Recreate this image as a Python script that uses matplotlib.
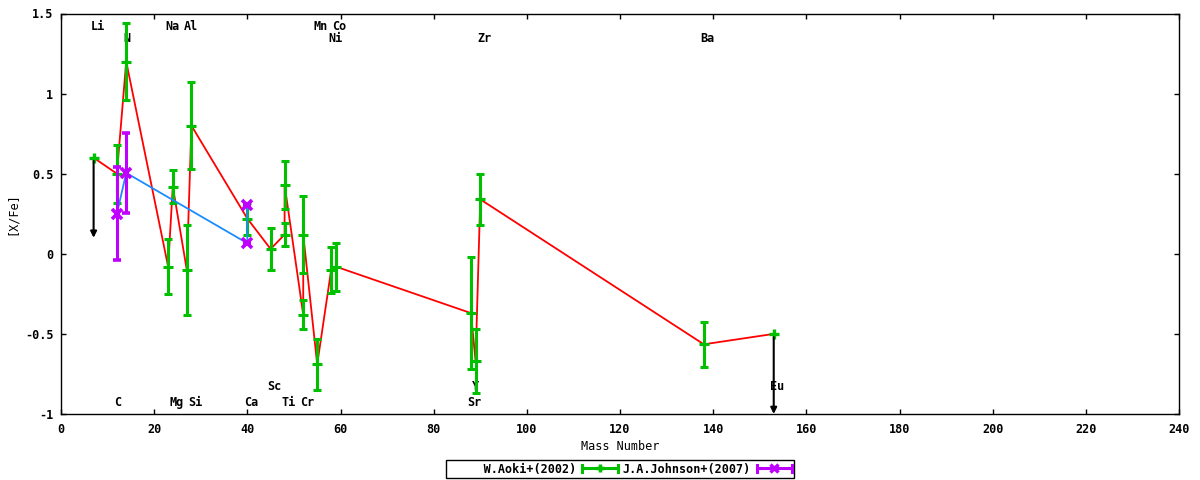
import numpy as np
import matplotlib
matplotlib.use("Agg")
import matplotlib.pyplot as plt
from matplotlib.lines import Line2D
from matplotlib.legend_handler import HandlerBase

# ---------------- data ----------------
aoki_mass = [7, 12, 14, 23, 24, 27, 28, 40, 45, 48, 48, 52, 52, 55, 58, 59, 88, 89, 90, 138, 153]
aoki_val = [0.60, 0.50, 1.20, -0.08, 0.42, -0.10, 0.80, 0.22, 0.03, 0.12, 0.43,
            -0.38, 0.12, -0.69, -0.10, -0.08, -0.37, -0.67, 0.34, -0.565, -0.50]
aoki_err = [np.nan, 0.18, 0.24, 0.17, 0.10, 0.28, 0.27, 0.10, 0.13, 0.07, 0.15,
            0.09, 0.24, 0.16, 0.145, 0.15, 0.35, 0.20, 0.16, 0.14, np.nan]
aoki_upper = [True] + [False] * 19 + [True]

johnson_mass = [12, 14, 40, 40]
johnson_val = [0.25, 0.505, 0.066, 0.305]
johnson_err = [0.29, 0.25, 0.0, 0.0]

label_top = ["Li", "Na", "Al", "Mn", "Co"]
label_top_mass = [7, 23, 27, 55, 59]
label_top2 = ["N", "Ni", "Zr", "Ba"]
label_top2_mass = [14, 58, 90, 138]
label_bot = ["C", "Mg", "Si", "Ca", "Ti", "Cr", "Sr"]
label_bot_mass = [12, 24, 28, 40, 48, 52, 88]
label_bot2 = ["Sc", "Y", "Eu"]
label_bot2_mass = [45, 89, 153]

series_names = ["W.Aoki+(2002)", "J.A.Johnson+(2007)"]
x_ticks = list(range(0, 241, 20))
y_ticks = [-1, -0.5, 0, 0.5, 1, 1.5]
y_ticklabels = ["-1", "-0.5", "0", "0.5", "1", "1.5"]

# ---------------- style ----------------
plt.rcParams["font.family"] = ["DejaVu Sans Mono"]
plt.rcParams["font.weight"] = "bold"
plt.rcParams["font.size"] = 8.5

GREEN = "#00c000"
RED = "#ff0000"
BLUE = "#1a8cff"
MAGENTA = "#c000ff"

W, H = 1200, 480
fig = plt.figure(figsize=(12, 4.8), dpi=100)
ax_l, ax_r, ax_t, ax_b = 61, 1179, 13.5, 414
ax = fig.add_axes([ax_l / W, 1 - ax_b / H, (ax_r - ax_l) / W, (ax_b - ax_t) / H])

m = np.array(aoki_mass, float)
v = np.array(aoki_val, float)
e = np.array(aoki_err, float)
lim = np.array(aoki_upper)
ok = np.isfinite(e)

# Aoki line + errorbars
ax.plot(m, v, color=RED, lw=1.3, zorder=2)
ax.errorbar(m[ok], v[ok], yerr=e[ok], fmt="+", color=GREEN, ms=6.5, mew=2.2,
            elinewidth=2.2, capsize=3.1, capthick=2.2, zorder=3)
ax.plot(m[lim], v[lim], "+", color=GREEN, ms=6.5, mew=2.4, zorder=3)
for xm, yv in zip(m[lim], v[lim]):
    ax.annotate("", xy=(xm, yv - 0.5), xytext=(xm, yv - 0.02),
                arrowprops=dict(arrowstyle="-|>", color="black", lw=1.5,
                                mutation_scale=9, shrinkA=0, shrinkB=0),
                annotation_clip=False, zorder=5)

# Johnson line + errorbars
ax.plot(johnson_mass, johnson_val, color=BLUE, lw=1.3, zorder=4)
ax.errorbar(johnson_mass, johnson_val, yerr=johnson_err, fmt="x", color=MAGENTA,
            ms=6.5, mew=2.6, elinewidth=2.2, capsize=3.1, capthick=2.4, zorder=4.5)

# element labels
def put_labels(names, masses, y):
    for n, xm in zip(names, masses):
        ax.text(xm - 0.7, y, n, ha="left", va="center", fontsize=8.5,
                fontweight="bold", zorder=1)

put_labels(label_top, label_top_mass, 1.418)
put_labels(label_top2, label_top2_mass, 1.347)
put_labels(label_bot, label_bot_mass, -0.931)
put_labels(label_bot2, label_bot2_mass, -0.831)

# axes
ax.set_xlim(0, 240)
ax.set_ylim(-1, 1.5)
ax.set_xticks(x_ticks)
ax.set_xticklabels([str(t) for t in x_ticks])
ax.set_yticks(y_ticks)
ax.set_yticklabels(y_ticklabels)
ax.tick_params(axis="both", direction="in", top=True, right=True, length=3.6, width=1)
ax.tick_params(axis="y", pad=5.5)
ax.tick_params(axis="x", pad=6.5)
for s in ax.spines.values():
    s.set_linewidth(1.0)
    s.set_color("black")

ax.set_xlabel("Mass Number")
ax.xaxis.set_label_coords(0.5, (ax_b - 446) / (ax_b - ax_t))
ax.xaxis.label.set_va("center")
ax.set_ylabel("[X/Fe]")
ax.yaxis.set_label_coords((12 - ax_l) / (ax_r - ax_l), 0.5)
ax.yaxis.label.set_va("center")


# legend with gnuplot-like errorbar samples
class ErrSample(HandlerBase):
    def create_artists(self, legend, orig, xdescent, ydescent, width, height,
                       fontsize, trans):
        c = orig.get_color()
        mk = orig.get_marker()
        y = height / 2 - ydescent
        x0, x1 = -xdescent, width - xdescent
        h = height * 0.45
        arts = [Line2D([x0, x1], [y, y], color=c, lw=2.2),
                Line2D([x0, x0], [y - h, y + h], color=c, lw=2.2),
                Line2D([x1, x1], [y - h, y + h], color=c, lw=2.2),
                Line2D([(x0 + x1) / 2], [y], marker=mk, color=c, ms=6,
                       mew=2.5, linestyle="none")]
        for a in arts:
            a.set_transform(trans)
        return arts


h1 = Line2D([], [], color=GREEN, marker="+")
h2 = Line2D([], [], color=MAGENTA, marker="x")
width = max(len(s) for s in series_names)
labels = [s.rjust(width) for s in series_names]
leg = fig.legend(handles=[h1, h2], labels=labels, handler_map={Line2D: ErrSample()},
                 ncol=2, markerfirst=False, loc="center",
                 bbox_to_anchor=(620 / W, 1 - 469 / H), frameon=True, fancybox=False,
                 edgecolor="black", framealpha=1, handlelength=3.0,
                 handletextpad=0.5, columnspacing=0.4, borderpad=0.2,
                 borderaxespad=0)
leg.get_frame().set_linewidth(1.0)

fig.savefig("out.png", dpi=100)
